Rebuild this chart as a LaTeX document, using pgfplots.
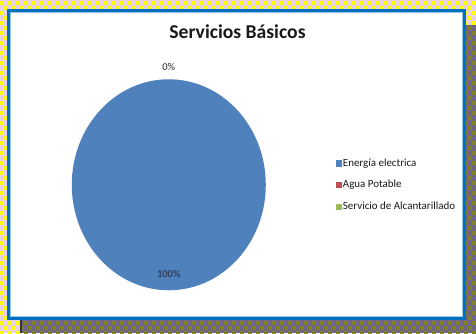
\documentclass[border=0pt]{standalone}
\usepackage{pgfplots}
\pgfplotsset{compat=1.18}
\usepackage{pgfplotstable}
\usepackage{fontspec}
\setmainfont{Carlito}
\definecolor{pieblue}{RGB}{79,129,189}
\definecolor{piered}{RGB}{192,80,77}
\definecolor{piegreen}{RGB}{155,187,89}
\definecolor{framblue}{RGB}{0,112,192}
\definecolor{bgpink}{RGB}{232,208,230}
\definecolor{bgyellow}{RGB}{255,255,0}
\definecolor{shpurple}{RGB}{112,100,140}
\definecolor{sholive}{RGB}{128,128,32}
\definecolor{labgray}{RGB}{38,38,50}

\pgfplotstableread{
label value col
{Energía electrica} 100 pieblue
{Agua Potable} 0 piered
{Servicio de Alcantarillado} 0 piegreen
}\piedata

\begin{document}
\begin{tikzpicture}[x=1bp,y=1bp]
% background
\useasboundingbox (0,0) rectangle (476,333);
\fill[bgpink] (0,0) rectangle (476,333);
\foreach \j in {0,...,67}{
  \pgfmathsetmacro\off{mod(\j,2)*4}
  \foreach \i in {0,...,60}{
    \fill[bgyellow] ({\i*8+\off},{333-\j*5-1}) rectangle ++(3.8,-3.8);
  }
}
% shadow
\begin{scope}
\clip (20,0) rectangle (476,308);
\fill[shpurple] (20,0) rectangle (476,308);
\foreach \j in {0,...,63}{
  \pgfmathsetmacro\off{mod(\j,2)*4}
  \foreach \i in {0,...,58}{
    \fill[sholive] ({20+\i*8+\off},{308-\j*5-1}) rectangle ++(3.8,-3.8);
  }
}
\end{scope}
\draw[black!80,line width=1.5bp] (20.75,0) -- (20.75,14);
\draw[black!60,line width=1bp] (466,307.5) -- (476,307.5);
% panel
\fill[white] (8.5,14.5) rectangle (464.5,322.5);
\draw[framblue,line width=3bp] (8.5,14.5) rectangle (464.5,322.5);
\draw[framblue!40,line width=0.6bp] (10.5,16.5) rectangle (462.5,320.5);
% title
\node[font=\bfseries\fontsize{19.7}{23}\selectfont,text=black!90] at (237.5,301) {Servicios Básicos};

% compute pie slices from data
\pgfplotstablegetelem{0}{value}\of\piedata \edef\vA{\pgfplotsretval}
\pgfplotstablegetelem{1}{value}\of\piedata \edef\vB{\pgfplotsretval}
\pgfplotstablegetelem{2}{value}\of\piedata \edef\vC{\pgfplotsretval}
\pgfmathsetmacro\total{\vA+\vB+\vC}
\pgfmathsetmacro\aA{90}
\pgfmathsetmacro\aB{\aA-360*(\vA/\total)}
\pgfmathsetmacro\aC{\aB-360*(\vB/\total)}
\pgfmathsetmacro\aD{\aC-360*(\vC/\total)}

\begin{axis}[
  at={(174,140.5)}, anchor=center,
  width=194bp, height=211bp, scale only axis,
  xmin=-1, xmax=1, ymin=-1, ymax=1,
  hide axis, clip=false,
  legend style={at={(axis description cs:1.36,0.5)}, anchor=west,
    draw=none, fill=none, font=\fontsize{11}{12}\selectfont,
    text=black!90, row sep=9.5bp, inner sep=0pt,
    nodes={inner sep=1.5bp}},
  legend cell align=left,
]
\ifdim\vA pt>0pt
\fill[pieblue] (axis cs:0,0) -- (axis cs:{cos(\aA)},{sin(\aA)})
  arc[start angle=\aA, end angle=\aB, x radius=97bp, y radius=105.5bp] -- cycle;
\fi
\ifdim\vB pt>0pt
\fill[piered] (axis cs:0,0) -- (axis cs:{cos(\aB)},{sin(\aB)})
  arc[start angle=\aB, end angle=\aC, x radius=97bp, y radius=105.5bp] -- cycle;
\fi
\ifdim\vC pt>0pt
\fill[piegreen] (axis cs:0,0) -- (axis cs:{cos(\aC)},{sin(\aC)})
  arc[start angle=\aC, end angle=\aD, x radius=97bp, y radius=105.5bp] -- cycle;
\fi
\addlegendimage{legend image code/.code={\fill[pieblue] (0bp,-2.6bp) rectangle (5.2bp,2.6bp);}}
\addlegendentry{Energía electrica}
\addlegendimage{legend image code/.code={\fill[piered] (0bp,-2.6bp) rectangle (5.2bp,2.6bp);}}
\addlegendentry{Agua Potable}
\addlegendimage{legend image code/.code={\fill[piegreen] (0bp,-2.6bp) rectangle (5.2bp,2.6bp);}}
\addlegendentry{Servicio de Alcantarillado}
\node[font=\fontsize{10.5}{12}\selectfont,text=labgray] at (axis cs:0,1.114) {0\%};
\node[font=\fontsize{10.5}{12}\selectfont,text=labgray] at (axis cs:0,-0.85) {100\%};
\end{axis}
\end{tikzpicture}
\end{document}
